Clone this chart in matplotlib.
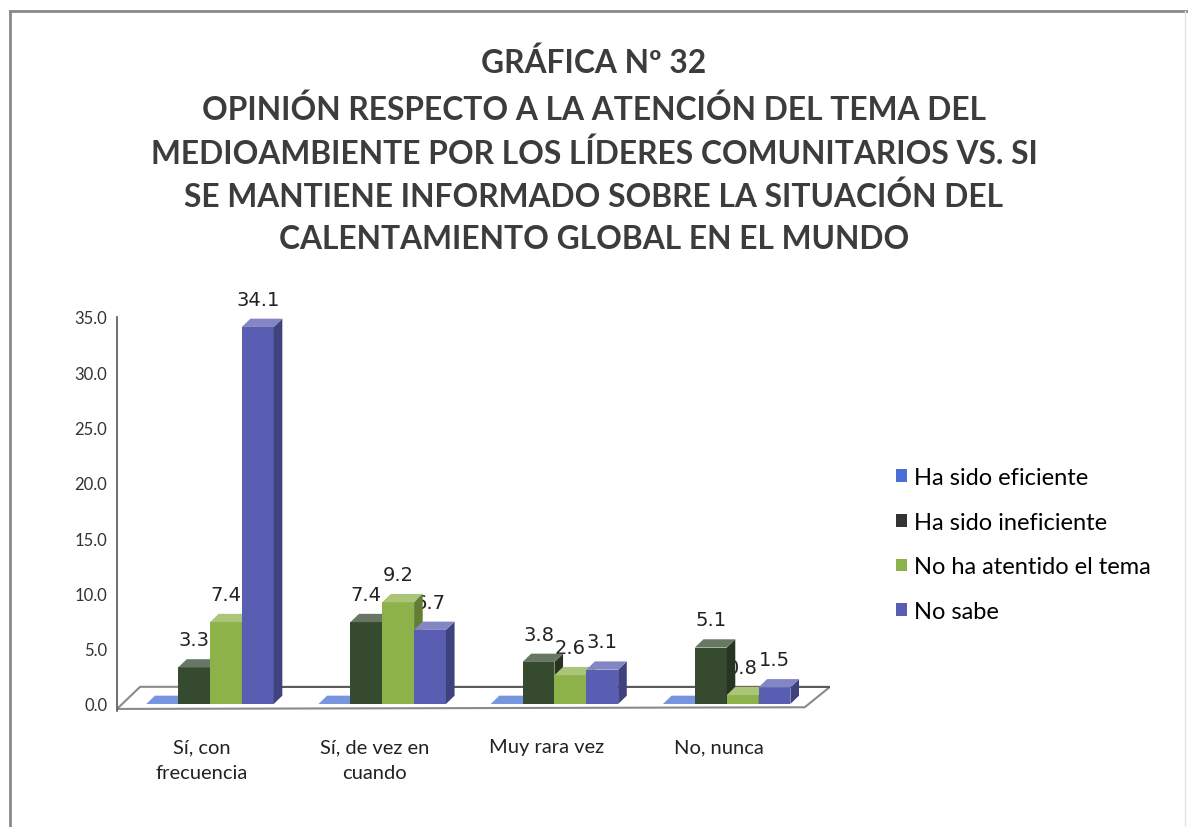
import matplotlib
matplotlib.use('Agg')
import matplotlib.pyplot as plt
from matplotlib.patches import Polygon, Rectangle
from matplotlib.lines import Line2D
import matplotlib.colors as mcolors
import matplotlib.transforms as mtransforms
import numpy as np

# ---------------- data ----------------
categories = ['Sí, con\nfrecuencia', 'Sí, de vez en\ncuando', 'Muy rara vez', 'No, nunca']
series_names = ['Ha sido eficiente', 'Ha sido ineficiente', 'No ha atentido el tema', 'No sabe']
eficiente = [0.0, 0.0, 0.0, 0.0]
ineficiente = [3.3, 7.4, 3.8, 5.1]
no_atendido = [7.4, 9.2, 2.6, 0.8]
no_sabe = [34.1, 6.7, 3.1, 1.5]
yticks = [0, 5, 10, 15, 20, 25, 30, 35]
title_lines = ['GRÁFICA Nº 32',
               'OPINIÓN RESPECTO A LA ATENCIÓN DEL TEMA DEL',
               'MEDIOAMBIENTE POR LOS LÍDERES COMUNITARIOS VS. SI',
               'SE MANTIENE INFORMADO SOBRE LA SITUACIÓN DEL',
               'CALENTAMIENTO GLOBAL EN EL MUNDO']

series_values = [eficiente, ineficiente, no_atendido, no_sabe]
colors = ['#4a70d4', '#364a2f', '#8db24a', '#5a5eb2']
legend_colors = ['#4a70d4', '#333333', '#8db24a', '#5a5eb2']

W, H = 1188, 828
fig = plt.figure(figsize=(W / 100, H / 100), dpi=100)
fig.patch.set_facecolor('white')

FONT = 'Lato'

# frame around the chart
fig.add_artist(Line2D([10 / W, 1188 / W], [1 - 12 / H, 1 - 12 / H], color='#8a8a8a', lw=2))
fig.add_artist(Line2D([10 / W, 10 / W], [1 - 12 / H, 0], color='#8a8a8a', lw=2))
fig.add_artist(Line2D([1185 / W, 1185 / W], [1 - 12 / H, 0], color='#e4e4e4', lw=1))

# ---------------- axes ----------------
px0, px1 = 117, 830
py_bot, py_top = 711.6, 318
ax = fig.add_axes([px0 / W, 1 - py_bot / H, (px1 - px0) / W, (py_bot - py_top) / H])
ax.set_xlim(-0.54, 3.6)
ax.set_ylim(-0.6, 35)
ax.patch.set_alpha(0)
for s in ['top', 'right', 'bottom']:
    ax.spines[s].set_visible(False)
ax.spines['left'].set_color('#555555')
ax.spines['left'].set_linewidth(1.2)

ax.set_yticks(yticks)
ax.set_yticklabels([f'{t:.1f}' for t in yticks], fontsize=12, family=FONT, color='#333333')
ax.set_xticks(range(len(categories)))
ax.set_xticklabels(categories, fontsize=14.5, family=FONT, color='#222222', linespacing=1.6)
ax.tick_params(axis='y', length=0, pad=7)
ax.tick_params(axis='x', length=0, pad=20)
shift = mtransforms.ScaledTranslation(-8 / 100, 0, fig.dpi_scale_trans)
for lbl in ax.get_xticklabels():
    lbl.set_transform(lbl.get_transform() + shift)

# floor
floor = Polygon([(-0.54, -0.45), (3.453, -0.3), (3.6, 1.55), (-0.406, 1.55)],
                closed=True, facecolor='white', edgecolor='#8a8a8a', lw=1.5, zorder=0.5)
ax.add_patch(floor)
ax.plot([-0.1, 3.6], [1.55, 1.55], color='#555555', lw=1.3, zorder=0.6)

# bars with pseudo-3D faces
w = 0.185
dx = 0.05
dy = 0.75
n = len(series_values)
z = 2
for i in range(len(categories)):
    for j, (vals, c) in enumerate(zip(series_values, colors)):
        v = vals[i]
        xc = i + (j - (n - 1) / 2) * w
        x0, x1 = xc - w / 2, xc + w / 2
        rgb = np.array(mcolors.to_rgb(c))
        side = tuple(rgb * 0.7)
        top = tuple(np.clip(rgb + (1 - rgb) * 0.25, 0, 1))
        ax.bar(xc, v, width=w, color=c, zorder=z, linewidth=0)
        ax.add_patch(Polygon([(x1, 0), (x1 + dx, dy), (x1 + dx, v + dy), (x1, v)],
                             closed=True, facecolor=side, edgecolor='none', zorder=z + 0.1))
        ax.add_patch(Polygon([(x0, v), (x0 + dx, v + dy), (x1 + dx, v + dy), (x1, v)],
                             closed=True, facecolor=top, edgecolor='none', zorder=z + 0.2))
        z += 1
        if v > 0:
            t = ax.annotate(f'{v:.1f}', (xc, v), xytext=(0, 20), textcoords='offset points',
                            ha='center', va='center', fontsize=14, family='DejaVu Sans',
                            color='#222222')
            t.set_zorder(1)

# legend
handles = [Rectangle((0, 0), 1, 1, facecolor=c, edgecolor='none') for c in legend_colors]
fig.legend(handles, series_names, loc='center left', bbox_to_anchor=(896 / W, 1 - 545.5 / H),
           frameon=False, prop={'family': FONT, 'size': 17}, handlelength=0.45, handleheight=0.45,
           handletextpad=0.3, labelspacing=1.0, borderpad=0, borderaxespad=0)

# title (auto-fit width of the widest line)
title_y = [63, 110, 154, 197, 240]
texts = []
for line, y in zip(title_lines, title_y):
    texts.append(fig.text(594 / W, 1 - y / H, line, ha='center', va='center', fontsize=24,
                          family=FONT, weight='bold', color='#3c3c3c'))
fig.canvas.draw()
r = fig.canvas.get_renderer()
wmax = texts[2].get_window_extent(r).width
scale = 887 / wmax
for t in texts:
    t.set_fontsize(24 * scale)

fig.savefig('out.png', dpi=100, facecolor='white')
